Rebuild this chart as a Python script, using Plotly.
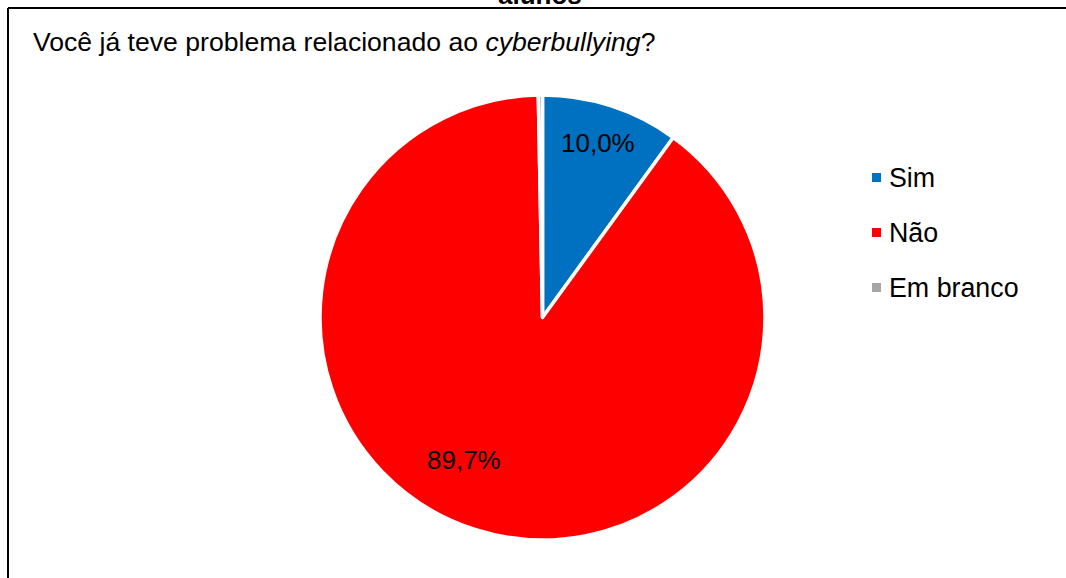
import plotly.graph_objects as go

# Survey answers and their shares (%)
categories = ["Sim", "Não", "Em branco"]
shares = [10.0, 89.7, 0.3]
colors = ["#0070C0", "#FF0000", "#A5A5A5"]
question = "Você já teve problema relacionado ao <i>cyberbullying</i>?"
header = "alunos"

W, H = 1066, 578
FONT = "Liberation Sans, Arial, sans-serif"


def px(x):
    return x / W


def py(y):
    return 1 - y / H


def fmt(v):
    return f"{v:.1f}".replace(".", ",") + "%"


fig = go.Figure(
    go.Pie(
        labels=categories,
        values=shares,
        sort=False,
        direction="clockwise",
        rotation=0,
        marker=dict(colors=colors, line=dict(color="white", width=3.5)),
        textinfo="none",
        hoverinfo="label+percent",
        showlegend=False,
        domain=dict(x=[px(320), px(765)], y=[py(540), py(95)]),
    )
)

shapes = [
    # chart frame (top and left edges)
    dict(type="line", xref="paper", yref="paper", x0=px(8), x1=px(1070),
         y0=py(8), y1=py(8), line=dict(color="black", width=2)),
    dict(type="line", xref="paper", yref="paper", x0=px(8), x1=px(8),
         y0=py(8), y1=py(590), line=dict(color="black", width=2)),
]

annotations = [
    dict(text=f"<b>{header}</b>", x=px(540), y=py(12), xref="paper", yref="paper",
         xanchor="center", yanchor="bottom", showarrow=False,
         font=dict(family=FONT, size=26, color="black")),
    dict(text=question, x=px(31), y=py(42), xref="paper", yref="paper",
         xanchor="left", yanchor="middle", showarrow=False,
         font=dict(family=FONT, size=26.6, color="black")),
]

# slice value labels
label_pos = {"Sim": (597.5, 143), "Não": (463.5, 460)}
for cat, val in zip(categories, shares):
    if cat in label_pos:
        lx, ly = label_pos[cat]
        annotations.append(dict(
            text=fmt(val), x=px(lx), y=py(ly), xref="paper", yref="paper",
            xanchor="center", yanchor="middle", showarrow=False,
            font=dict(family=FONT, size=26, color="black")))

# legend: small square swatch plus label per category
legend_y = [177.5, 232.5, 287.5]
for cat, col, ly in zip(categories, colors, legend_y):
    shapes.append(dict(type="rect", xref="paper", yref="paper",
                       x0=px(872), x1=px(881), y0=py(ly - 4.5), y1=py(ly + 4.5),
                       fillcolor=col, line=dict(width=0)))
    annotations.append(dict(
        text=cat, x=px(887), y=py(ly), xref="paper", yref="paper",
        xanchor="left", yanchor="middle", showarrow=False,
        font=dict(family=FONT, size=26.8, color="black")))

fig.update_layout(
    width=W, height=H,
    margin=dict(l=0, r=0, t=0, b=0),
    paper_bgcolor="white",
    plot_bgcolor="white",
    shapes=shapes,
    annotations=annotations,
)

fig.write_html("out.html")
